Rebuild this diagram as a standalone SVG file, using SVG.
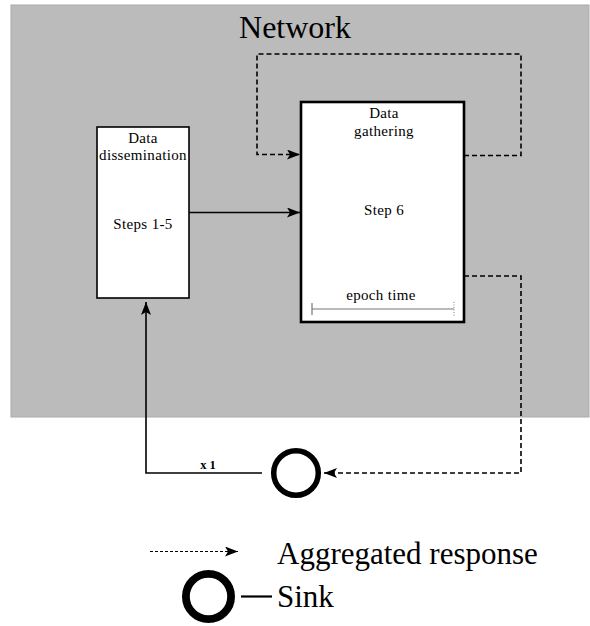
<svg xmlns="http://www.w3.org/2000/svg" width="590" height="626" viewBox="0 0 590 626">
<style>
text{font-family:"Liberation Serif","Times New Roman",serif;fill:#000}
.small{font-size:15px;text-anchor:middle;letter-spacing:0.35px}
.solid{fill:none;stroke:#000;stroke-width:1.6}
.dash{fill:none;stroke:#000;stroke-width:1.6;stroke-dasharray:5,3}
</style>
<defs>
<marker id="ah" markerUnits="userSpaceOnUse" markerWidth="14" markerHeight="10" refX="13" refY="5" orient="auto">
<path d="M0,0 L13,5 L0,10 L3,5 z" fill="#000"/>
</marker>
</defs>
<rect id="network" x="11" y="5" width="578" height="412" fill="#bbbbbb" stroke="#aaaaaa" stroke-width="1"/>
<text x="295" y="38" font-size="32" text-anchor="middle">Network</text>
<g id="connectors">
<path class="dash" d="M464,155.5 H521 V54 H257 V154.5 H300" marker-end="url(#ah)"/>
<path class="solid" d="M189,212.5 H300" marker-end="url(#ah)"/>
<path class="dash" d="M464,276 H521 V473 H324" marker-end="url(#ah)"/>
<path class="solid" d="M262,473 H146 V302" marker-end="url(#ah)"/>
<text x="208" y="469" font-size="12.5" font-weight="bold" text-anchor="middle">x 1</text>
</g>
<g id="dissemination">
<rect x="97" y="127" width="92" height="171" fill="#fff" stroke="#000" stroke-width="1.6"/>
<text class="small" x="143" y="143">Data</text>
<text class="small" x="143" y="160">dissemination</text>
<text class="small" x="143" y="229">Steps 1-5</text>
</g>
<g id="gathering">
<rect x="301" y="102" width="163" height="220" fill="#fff" stroke="#000" stroke-width="2.6"/>
<text class="small" x="384" y="118">Data</text>
<text class="small" x="384" y="136">gathering</text>
<text class="small" x="384" y="215">Step 6</text>
<text class="small" x="381" y="300">epoch time</text>
<path d="M312,309 H454 M312,303 V315" stroke="#777" stroke-width="1.2" fill="none"/>
<path d="M454,302 V316" stroke="#999" stroke-width="1.2" stroke-dasharray="1,1.5" fill="none"/>
</g>
<g id="sink">
<circle cx="296" cy="473" r="22.3" fill="#fff" stroke="#000" stroke-width="5.5"/>
</g>
<g id="legend">
<path d="M150,551.5 H238" fill="none" stroke="#000" stroke-width="1.1" stroke-dasharray="3,2" marker-end="url(#ah)"/>
<text x="277" y="564" font-size="31">Aggregated response</text>
<circle cx="208.5" cy="596.5" r="22.6" fill="#fff" stroke="#000" stroke-width="7.8"/>
<path d="M241,596.5 H272" stroke="#000" stroke-width="2.2"/>
<text x="277" y="607" font-size="31">Sink</text>
</g>
</svg>
